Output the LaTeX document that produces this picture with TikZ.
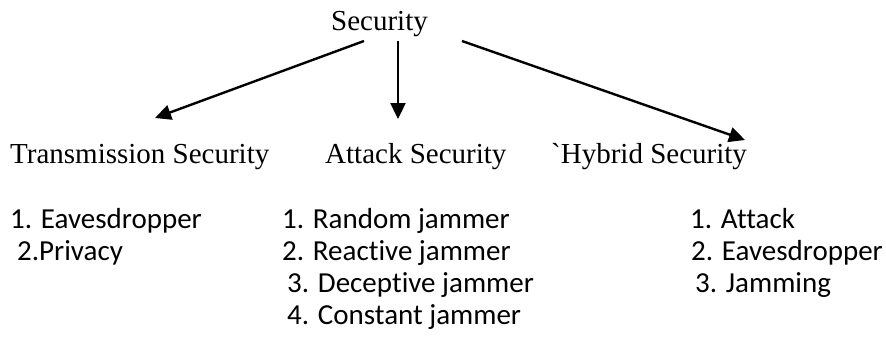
\documentclass[tikz,border=0pt]{standalone}
\usepackage{fontspec}
\newfontfamily\tnr{Liberation Serif}
\newfontfamily\calibri{Carlito}[Ligatures=NoCommon]
\usetikzlibrary{arrows.meta}
\begin{document}
\begin{tikzpicture}[x=1pt,y=-1pt,
  head/.style={tnr font, anchor=base west, inner sep=0pt},
  tnr font/.style={font=\tnr\fontsize{29}{32}\selectfont},
  item/.style={font=\calibri\fontsize{29}{32}\selectfont, anchor=base west, inner sep=0pt},
  link/.style={line width=2.4pt, -{Triangle[length=16pt,width=15pt]}}]
\useasboundingbox (0,0) rectangle (886,343);
\node[head] (sec) at (331,30) {Security};
\node[head] (trans) at (10,163) {Transmission Security};
\node[head] (att) at (325,163) {Attack Security};
\node[head] (hyb) at (551,163) {`Hybrid Security};
\coordinate (s1) at (364,41);
\coordinate (s2) at (398,41);
\coordinate (s3) at (462,41);
\coordinate (e1) at (155,118);
\coordinate (e2) at (398,119);
\coordinate (e3) at (745,140);
\draw[link] (s1) -- (e1);
\draw[link] (s2) -- (e2);
\draw[link] (s3) -- (e3);
\node[item] (t1) at (10,228) {1. Eavesdropper};
\node[item] (t2) at (17,260) {2.Privacy};
\node[item] (a1) at (282,228) {1. Random jammer};
\node[item] (a2) at (282,260) {2. Reactive jammer};
\node[item] (a3) at (287,292) {3. Deceptive jammer};
\node[item] (a4) at (287,324) {4. Constant jammer};
\node[item] (h1) at (690,228) {1. Attack};
\node[item] (h2) at (691,260) {2. Eavesdropper};
\node[item] (h3) at (695,292) {3. Jamming};
\end{tikzpicture}
\end{document}
